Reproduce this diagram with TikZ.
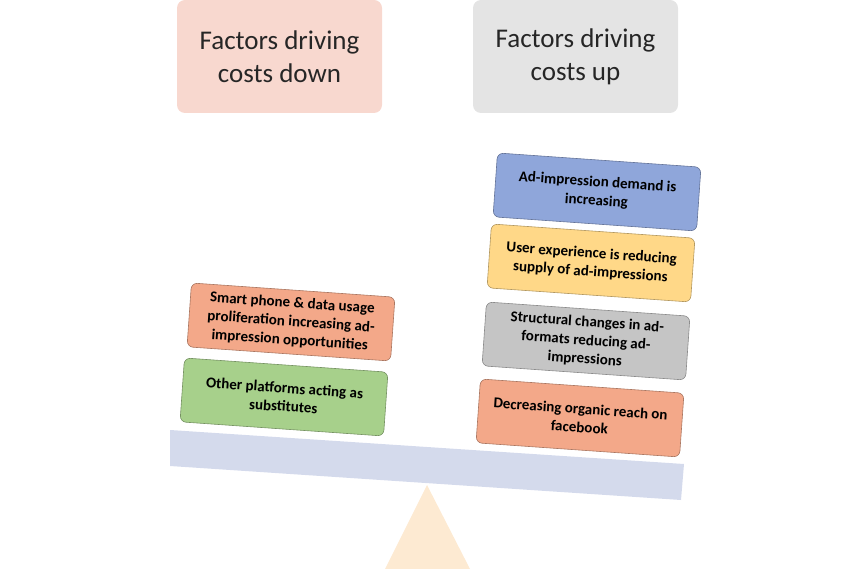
\documentclass[tikz,border=0pt]{standalone}
\usepackage{fontspec}
\setmainfont{Carlito}
\definecolor{cblue}{HTML}{8FA6DA}
\definecolor{cyel}{HTML}{FFD888}
\definecolor{cgray}{HTML}{C5C5C5}
\definecolor{csal}{HTML}{F3A889}
\definecolor{cgreen}{HTML}{A7D08B}
\definecolor{hdown}{RGB}{248,216,207}
\definecolor{hup}{RGB}{228,228,228}
\definecolor{tri}{RGB}{253,234,210}
\definecolor{beam}{RGB}{212,218,236}
\begin{document}
\begin{tikzpicture}[x=1pt,y=-1pt,
 head/.style={rounded corners=8pt,minimum width=205pt,minimum height=113pt,align=center,font=\fontsize{27}{33}\selectfont,text=black!85},
 box/.style={rounded corners=6pt,draw=#1!70!black,fill=#1,minimum width=204pt,minimum height=64pt,align=center,inner sep=2pt,font=\fontsize{15}{18.5}\selectfont\bfseries,rotate=-4,line width=0.6pt}]
\useasboundingbox (0,0) rectangle (854,569);
\node[head,fill=hdown] (hd) at (279.5,56.5) {Factors driving\\costs down};
\node[head,fill=hup] (hu) at (575.5,56.5) {Factors driving\\costs up};
\fill[tri] (427,485) -- (470,569) -- (385,569) -- cycle;
\fill[beam] (170,430) -- (684,464) -- (681,500) -- (170,466) -- cycle;
\node[box=cblue] (b1) at (597,192) {Ad-impression demand is\\increasing};
\node[box=cyel] (b2) at (591,263) {User experience is reducing\\supply of ad-impressions};
\node[box=cgray] (b3) at (586,341) {Structural changes in ad-\\formats reducing ad-\\impressions};
\node[box=csal] (b4) at (580,418) {Decreasing organic reach on\\facebook};
\node[box=csal] (a1) at (291,322) {Smart phone \& data usage\\proliferation increasing ad-\\impression opportunities};
\node[box=cgreen] (a2) at (284,397) {Other platforms acting as\\substitutes};
\end{tikzpicture}
\end{document}
